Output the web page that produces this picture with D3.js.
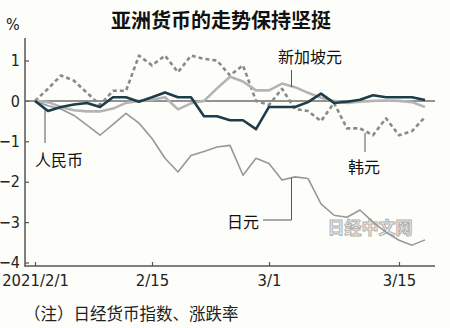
<!DOCTYPE html>
<html>
<head>
<meta charset="utf-8">
<script src="https://cdn.jsdelivr.net/npm/d3@7"></script>
<style>
  html, body { margin: 0; padding: 0; background: #fdfdfa; }
  svg { display: block; }
  .num { font-family: "Liberation Sans Narrow", "DejaVu Sans Condensed", "Liberation Sans", sans-serif; }
  .cjk { font-family: "Noto Sans CJK SC", sans-serif; }
</style>
</head>
<body>
<svg id="chart" width="450" height="328"></svg>
<script>
// Japanese trading days, 2021-02-01 .. 2021-03-17
const dates = [
  "2/1","2/2","2/3","2/4","2/5","2/8","2/9","2/10","2/12",
  "2/15","2/16","2/17","2/18","2/19","2/22","2/24","2/25","2/26",
  "3/1","3/2","3/3","3/4","3/5","3/8","3/9","3/10","3/11","3/12",
  "3/15","3/16","3/17"
];

// Change vs 2021/2/1, %
const cny = [0, -0.25, -0.15, -0.09, -0.05, -0.15, 0.09, 0.09, -0.02,
  0.09, 0.21, 0.09, 0.09, -0.38, -0.38, -0.48, -0.48, -0.70,
  -0.15, -0.15, -0.15, -0.03, 0.18, -0.05, -0.02, 0.03, 0.14, 0.09,
  0.09, 0.09, 0.02];
const sgd = [0, -0.03, -0.15, -0.23, -0.26, -0.26, -0.19, -0.05, 0.00,
  0.03, 0.09, -0.21, -0.06, 0.00, 0.31, 0.60, 0.48, 0.26,
  0.26, 0.43, 0.34, 0.20, 0.08, 0.00, -0.05, -0.02, 0.00, 0.01,
  0.00, -0.03, -0.15];
const krw = [0, 0.30, 0.63, 0.50, 0.20, -0.10, 0.25, 0.25, 1.12,
  0.88, 1.12, 0.71, 1.12, 1.04, 1.00, 0.63, 0.88, 0.00,
  -0.10, 0.30, -0.20, -0.25, -0.50, -0.05, -0.68, -0.68, -0.85, -0.43,
  -0.85, -0.75, -0.40];
const jpy = [0, -0.12, -0.20, -0.36, -0.60, -0.85, -0.58, -0.31, -0.55,
  -0.93, -1.42, -1.76, -1.35, -1.25, -1.14, -1.10, -1.84, -1.42,
  -1.55, -1.96, -1.88, -1.92, -2.55, -2.83, -2.88, -2.70, -3.00, -3.25,
  -3.45, -3.57, -3.44];

const xTickDates = ["2/1", "2/15", "3/1", "3/15"];
const xTickLabels = ["2021/2/1", "2/15", "3/1", "3/15"];
const yTicks = [1, 0, -1, -2, -3, -4];

const svg = d3.select("#chart");

const x = d3.scalePoint().domain(dates).range([35, 425]);
const y = d3.scaleLinear().domain([-4, 1]).range([262.5, 60.5]);

const axisColor = "#555";

// title
svg.append("text").attr("class", "cjk")
  .attr("x", 221).attr("y", 28)
  .attr("text-anchor", "middle")
  .attr("font-size", 20).attr("font-weight", "bold").attr("fill", "#111")
  .text("亚洲货币的走势保持坚挺");

svg.append("text").attr("class", "num")
  .attr("x", 6).attr("y", 30)
  .attr("font-size", 16).attr("fill", "#222")
  .text("%");

// axes
const yAxis = d3.axisLeft(y).tickValues(yTicks).tickSize(-4).tickPadding(5)
  .tickFormat(d3.format("d"));
const gy = svg.append("g").attr("transform", "translate(25,0)").call(yAxis);
gy.select(".domain").remove();
gy.selectAll(".tick line").attr("stroke", axisColor).attr("stroke-width", 1.2);
gy.selectAll(".tick text").attr("class", "num").attr("font-size", 16).attr("fill", "#222");

const xAxis = d3.axisBottom(x).tickValues(xTickDates).tickSize(-4).tickPadding(8)
  .tickFormat((d, i) => xTickLabels[i]);
const gx = svg.append("g").attr("transform", "translate(0,266)").call(xAxis);
gx.select(".domain").remove();
gx.selectAll(".tick line").attr("stroke", axisColor).attr("stroke-width", 1.2);
gx.selectAll(".tick text").attr("class", "num").attr("font-size", 16.5).attr("fill", "#222");

svg.append("line").attr("x1", 25).attr("x2", 25).attr("y1", 38).attr("y2", 266.5)
  .attr("stroke", axisColor).attr("stroke-width", 1.5);
svg.append("line").attr("x1", 24.5).attr("x2", 435).attr("y1", 266).attr("y2", 266)
  .attr("stroke", axisColor).attr("stroke-width", 1.5);

// zero line
svg.append("line").attr("x1", 25).attr("x2", 435).attr("y1", y(0)).attr("y2", y(0))
  .attr("stroke", "#6e6e6e").attr("stroke-width", 1.5);

// watermark
svg.append("text").attr("class", "cjk")
  .attr("x", 370).attr("y", 234).attr("text-anchor", "middle")
  .attr("font-size", 17).attr("font-weight", "bold")
  .attr("fill", "#f4f4f2").attr("stroke", "#b0b0b0").attr("stroke-width", 1)
  .text("日经中文网");

const line = d3.line().x((d, i) => x(dates[i])).y(d => y(d));

const series = [
  { values: jpy, color: "#989898", width: 1.6, dash: null },
  { values: krw, color: "#8a8a8a", width: 2.6, dash: "4,3" },
  { values: sgd, color: "#b4b4b4", width: 2.6, dash: null },
  { values: cny, color: "#1d3d4a", width: 2.6, dash: null }
];
series.forEach(s => {
  svg.append("path").datum(s.values)
    .attr("d", line).attr("fill", "none")
    .attr("stroke", s.color).attr("stroke-width", s.width)
    .attr("stroke-linejoin", "round")
    .attr("stroke-dasharray", s.dash);
});

// labels with leader lines
const leader = "#555";
function lead(pts) {
  svg.append("path").attr("d", d3.line()(pts)).attr("fill", "none")
    .attr("stroke", leader).attr("stroke-width", 1);
}
lead([[45, 110], [45, 143]]);
lead([[291.5, 70], [291.5, 87]]);
lead([[365, 133], [365, 152]]);
lead([[291.5, 178], [291.5, 220], [263, 220]]);

const labels = [
  { text: "人民币", x: 59, y: 166 },
  { text: "新加坡元", x: 310, y: 63 },
  { text: "韩元", x: 364, y: 173 },
  { text: "日元", x: 243, y: 228 }
];
svg.selectAll(".lab").data(labels).enter().append("text")
  .attr("class", "cjk lab")
  .attr("x", d => d.x).attr("y", d => d.y)
  .attr("text-anchor", "middle").attr("font-size", 16).attr("fill", "#111")
  .text(d => d.text);

// footnote
svg.append("text").attr("class", "cjk")
  .attr("x", 24).attr("y", 320)
  .attr("font-size", 16.5).attr("fill", "#222")
  .text("（注）日经货币指数、涨跌率");
</script>
</body>
</html>
